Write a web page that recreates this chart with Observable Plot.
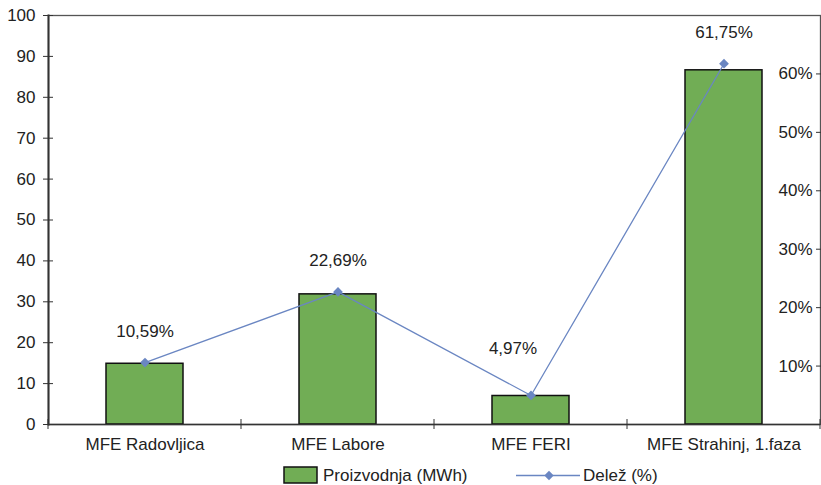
<!DOCTYPE html>
<html>
<head>
<meta charset="utf-8">
<script src="https://cdn.jsdelivr.net/npm/d3@7"></script>
<script src="https://cdn.jsdelivr.net/npm/@observablehq/plot@0.6"></script>
<style>
  body { margin: 0; background: #fff; }
  #chart { position: relative; width: 821px; font-family: "Liberation Sans", Arial, sans-serif; color: #222; }
  .legend { position: relative; height: 25px; font-size: 17px; }
  .legend .item { position: absolute; top: 3px; height: 25px; display: flex; align-items: center; }
  .legend svg { display: block; }
</style>
</head>
<body>
<div id="chart"></div>
<script>
// Production per plant (MWh) and each plant's share of the total (%)
const plants = ["MFE Radovljica", "MFE Labore", "MFE FERI", "MFE Strahinj, 1.faza"];
const production = [14.85, 31.82, 6.97, 86.60];
const share = [10.59, 22.69, 4.97, 61.75];
const leftTicks = [0, 10, 20, 30, 40, 50, 60, 70, 80, 90, 100];
const rightTicks = [10, 20, 30, 40, 50, 60];
const rightMax = 70; // secondary axis runs 0–70 %

const barFill = "#71ad55";
const lineColor = "#6a86c2";
const axisColor = "#333";

const rows = plants.map((p, i) => ({plant: p, mwh: production[i], pct: share[i]}));
const k = 100 / rightMax; // maps % onto the primary y scale
const fmtPct = d => d.toFixed(2).replace(".", ",") + "%";

// the FERI label sits up and to the left, clear of the rising line
const shifted = new Set(["MFE FERI"]);

// ticks on the category boundaries, crossing the baseline
function boundaryTicks(index, scales, values, dims) {
  const x = scales.x, y = scales.y;
  const bw = x.bandwidth();
  const step = x.step ? x.step() : bw / (1 - 0.6);
  const y0 = y(0);
  const edges = [];
  plants.forEach((p, i) => {
    const c = x(p) + bw / 2;
    if (i === 0) edges.push(c - step / 2);
    edges.push(c + step / 2);
  });
  const g = d3.create("svg:g").attr("stroke", axisColor).attr("stroke-width", 1);
  for (const e of edges) {
    g.append("line").attr("x1", e).attr("x2", e).attr("y1", y0 - 5).attr("y2", y0 + 5);
  }
  return g.node();
}

const chart = Plot.plot({
  width: 821,
  height: 460,
  marginLeft: 48,
  marginRight: 1,
  marginTop: 15,
  marginBottom: 36,
  style: {fontFamily: "Liberation Sans, Arial, sans-serif", fontSize: "17px", color: "#222", background: "#fff"},
  x: {domain: plants, paddingInner: 0.6, paddingOuter: 0.3, label: null},
  y: {domain: [0, 100], label: null},
  marks: [
    Plot.frame({stroke: "#555", strokeWidth: 1.3}),
    Plot.barY(rows, {x: "plant", y: "mwh", fill: barFill, stroke: "#111", strokeWidth: 1.5}),
    Plot.ruleY([0], {stroke: axisColor, strokeWidth: 1.5}),
    Plot.frame({anchor: "left", stroke: axisColor, strokeWidth: 2}),
    Plot.axisY(leftTicks, {anchor: "left", tickSize: 5, tickPadding: 8, stroke: axisColor, label: null}),
    Plot.axisY(leftTicks, {anchor: "left", tickSize: -5, tickFormat: () => "", stroke: axisColor, label: null}),
    Plot.axisY(rightTicks.map(t => t * k), {
      anchor: "right", tickSize: -5, tickPadding: -3, textAnchor: "end",
      tickFormat: d => Math.round(d / k) + "%", stroke: axisColor, label: null
    }),
    Plot.axisX({tickSize: 0, tickPadding: 13, label: null}),
    boundaryTicks,
    Plot.line(rows, {x: "plant", y: d => d.pct * k, stroke: lineColor, strokeWidth: 1.3}),
    Plot.dot(rows, {x: "plant", y: d => d.pct * k, symbol: "diamond2", r: 4.4, fill: lineColor, stroke: null}),
    Plot.text(rows.filter(d => !shifted.has(d.plant)), {
      x: "plant", y: d => d.pct * k, text: d => fmtPct(d.pct), dy: -31, fill: "#222"
    }),
    Plot.text(rows.filter(d => shifted.has(d.plant)), {
      x: "plant", y: d => d.pct * k, text: d => fmtPct(d.pct), dy: -47, dx: -18, fill: "#222"
    })
  ]
});

const root = document.getElementById("chart");
root.appendChild(chart);

// legend below the plot
const legend = document.createElement("div");
legend.className = "legend";
legend.innerHTML = `
  <div class="item" style="left:283px">
    <svg width="36" height="19"><rect x="1" y="1" width="33" height="16" fill="${barFill}" stroke="#111" stroke-width="1.5"/></svg>
    <span style="margin-left:4px">Proizvodnja (MWh)</span>
  </div>
  <div class="item" style="left:516px">
    <svg width="66" height="19"><line x1="0" x2="64" y1="9.5" y2="9.5" stroke="${lineColor}" stroke-width="1.3"/>
      <path d="M33,4.8L37.7,9.5L33,14.2L28.3,9.5Z" fill="${lineColor}"/></svg>
    <span style="margin-left:1px">Delež (%)</span>
  </div>`;
root.appendChild(legend);
</script>
</body>
</html>
